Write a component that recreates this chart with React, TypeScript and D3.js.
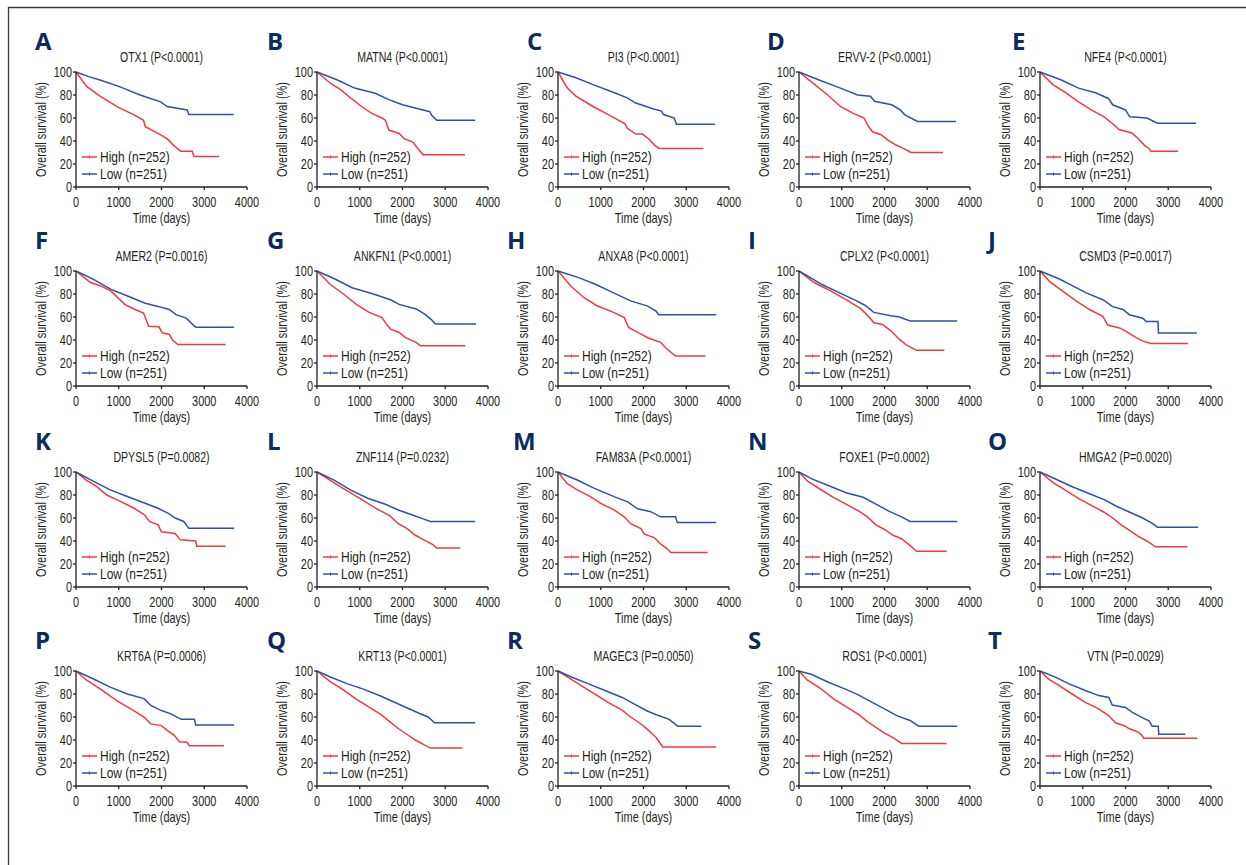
import * as d3 from 'd3';
import React from 'react';

type Pt = [number, number];

const letters = ['A', 'B', 'C', 'D', 'E', 'F', 'G', 'H', 'I', 'J', 'K', 'L', 'M', 'N', 'O', 'P', 'Q', 'R', 'S', 'T'];
const genes = ['OTX1', 'MATN4', 'PI3', 'ERVV-2', 'NFE4', 'AMER2', 'ANKFN1', 'ANXA8', 'CPLX2', 'CSMD3',
  'DPYSL5', 'ZNF114', 'FAM83A', 'FOXE1', 'HMGA2', 'KRT6A', 'KRT13', 'MAGEC3', 'ROS1', 'VTN'];
const pValues = ['P<0.0001', 'P<0.0001', 'P<0.0001', 'P<0.0001', 'P<0.0001', 'P=0.0016', 'P<0.0001', 'P<0.0001',
  'P<0.0001', 'P=0.0017', 'P=0.0082', 'P=0.0232', 'P<0.0001', 'P=0.0002', 'P=0.0020', 'P=0.0006', 'P<0.0001',
  'P=0.0050', 'P<0.0001', 'P=0.0029'];
const legendLabels = ['High (n=252)', 'Low (n=251)'];
const xTicks = [0, 1000, 2000, 3000, 4000];
const yTicks = [0, 20, 40, 60, 80, 100];

// [days, survival %]
const highCurves: Pt[][] = [
  [[0, 100], [250, 87.5], [560, 79], [1000, 69], [1350, 63], [1580, 58], [1620, 52.5], [1900, 47], [2130, 42], [2290, 36], [2450, 31], [2720, 31], [2760, 26.5], [3350, 26.5]],
  [[0, 100], [320, 90], [560, 84.5], [800, 77], [1040, 70], [1280, 64], [1520, 60], [1600, 58], [1680, 49.5], [1920, 46.5], [2040, 42], [2240, 39], [2360, 33.5], [2480, 28], [3460, 28]],
  [[0, 100], [220, 86], [420, 79], [820, 70], [1120, 64], [1420, 58], [1570, 55], [1620, 51], [1820, 46], [1970, 46], [2120, 42], [2270, 36], [2370, 33.5], [3400, 33.5]],
  [[0, 100], [370, 89], [670, 80], [970, 70], [1270, 64], [1520, 60], [1620, 53], [1720, 48], [1920, 45.5], [2070, 41], [2270, 36.5], [2420, 34], [2620, 30], [3370, 30]],
  [[0, 100], [300, 89], [600, 82], [900, 74], [1200, 67], [1500, 61], [1700, 55], [1850, 50], [2150, 47], [2300, 42], [2450, 36], [2550, 33.5], [2600, 31], [3230, 31]],
  [[0, 100], [340, 90], [580, 87], [820, 82.5], [1140, 71], [1380, 66.5], [1580, 63.5], [1700, 52], [1940, 51.5], [2020, 46], [2180, 45], [2260, 40], [2380, 36], [3500, 36]],
  [[0, 100], [320, 88], [620, 80], [920, 71], [1220, 64], [1520, 59.5], [1620, 54], [1720, 49.5], [1920, 46.5], [2070, 42], [2320, 38], [2420, 35], [3470, 35]],
  [[0, 100], [300, 87], [600, 77], [900, 70], [1300, 64], [1550, 59.5], [1650, 51], [1900, 46], [2100, 42], [2400, 38], [2550, 32], [2750, 26], [3450, 26]],
  [[0, 100], [350, 90], [750, 82.5], [1150, 74], [1450, 67], [1650, 59.5], [1750, 55], [1950, 53.5], [2150, 48], [2350, 40.5], [2500, 36], [2750, 31], [3400, 31]],
  [[0, 100], [220, 91], [530, 82.5], [845, 74], [1155, 66.5], [1470, 60.5], [1585, 53], [1860, 50.5], [2015, 47.5], [2250, 42], [2405, 39], [2600, 37], [3460, 37]],
  [[0, 100], [240, 93], [480, 87.5], [720, 80], [1040, 74.5], [1360, 68.5], [1600, 62.7], [1720, 57], [1920, 54], [2000, 48], [2320, 46.5], [2440, 41], [2800, 40], [2825, 35.5], [3500, 35.5]],
  [[0, 100], [300, 93], [600, 86], [1000, 77], [1400, 68], [1700, 62], [1900, 55], [2100, 51], [2300, 45], [2500, 41], [2700, 37], [2800, 34], [3350, 34]],
  [[0, 100], [210, 90], [450, 84.5], [760, 78.6], [1000, 72.7], [1310, 67], [1550, 61], [1700, 55], [1940, 50.7], [2020, 46], [2250, 43], [2400, 37.5], [2560, 33], [2640, 30], [3500, 30]],
  [[0, 100], [200, 92], [500, 85], [800, 78], [1100, 72], [1400, 66], [1600, 61], [1800, 54], [2000, 50], [2200, 45], [2400, 42], [2600, 36], [2750, 31], [3450, 31]],
  [[0, 100], [300, 91], [600, 84], [900, 77], [1200, 71], [1500, 65], [1700, 60], [1900, 54], [2100, 49], [2300, 44], [2500, 40], [2700, 35], [3450, 35]],
  [[0, 100], [250, 92], [565, 84.5], [960, 74], [1350, 65.6], [1590, 60], [1750, 54], [2000, 52.5], [2150, 48], [2300, 44], [2420, 38.5], [2600, 38], [2650, 35], [3460, 35]],
  [[0, 100], [300, 91], [600, 84], [900, 76], [1200, 69], [1500, 62], [1700, 56], [1900, 50], [2100, 45], [2300, 40], [2500, 36], [2650, 33], [3400, 33]],
  [[0, 100], [300, 93], [600, 86], [900, 79], [1200, 72], [1500, 66], [1700, 60], [1900, 55], [2100, 49], [2300, 42], [2450, 34], [3700, 34]],
  [[0, 100], [200, 92], [500, 85], [800, 76], [1100, 69], [1400, 62], [1600, 56], [1800, 51], [2000, 46], [2200, 42], [2400, 37], [3450, 37]],
  [[0, 100], [200, 93], [440, 87.5], [750, 80], [1060, 72.7], [1375, 67], [1610, 61], [1765, 55], [2000, 52], [2080, 50], [2310, 46.6], [2390, 43.7], [2430, 41.5], [3680, 41.5]],
];

const lowCurves: Pt[][] = [
  [[0, 100], [300, 96], [560, 93], [1000, 87.5], [1500, 80], [1980, 74], [2130, 70], [2600, 67], [2640, 63], [3690, 63]],
  [[0, 100], [480, 93], [880, 86], [1360, 81.5], [1680, 76], [2000, 71.5], [2320, 68.5], [2640, 65.5], [2680, 62.5], [2800, 58], [3700, 58]],
  [[0, 100], [420, 95], [820, 89], [1320, 82], [1620, 77.5], [1820, 73], [2220, 68], [2420, 66], [2470, 63], [2720, 60], [2770, 54.5], [3670, 54.5]],
  [[0, 100], [470, 93], [970, 86], [1370, 80], [1670, 79], [1770, 74.5], [2170, 71.5], [2370, 67], [2470, 63], [2770, 57], [3670, 57]],
  [[0, 100], [500, 93], [900, 86], [1300, 82], [1600, 77], [1700, 71.5], [2000, 67], [2100, 61], [2500, 60], [2750, 55.5], [3650, 55.5]],
  [[0, 100], [420, 92.5], [820, 84], [1220, 78], [1620, 72], [1940, 69], [2180, 66.5], [2340, 62], [2580, 59], [2660, 56], [2800, 51], [3700, 51]],
  [[0, 100], [420, 93], [820, 85.5], [1320, 80], [1720, 75], [1920, 71], [2320, 67], [2520, 62.5], [2670, 58], [2770, 54], [3720, 54]],
  [[0, 100], [500, 94], [900, 88], [1300, 81], [1700, 74], [2100, 69.5], [2300, 65], [2350, 62], [3700, 62]],
  [[0, 100], [550, 88], [950, 81], [1350, 74], [1550, 70], [1750, 64], [2150, 61], [2350, 60], [2600, 56.5], [3700, 56.5]],
  [[0, 100], [455, 93], [765, 87], [1080, 81], [1470, 75], [1700, 69], [1940, 66.5], [2090, 62], [2405, 59], [2485, 56], [2760, 56], [2770, 46], [3670, 46]],
  [[0, 100], [400, 92], [800, 84.5], [1200, 78.7], [1600, 73], [1920, 68.5], [2160, 64], [2320, 60], [2520, 57], [2640, 51], [3700, 51]],
  [[0, 100], [400, 93], [800, 84], [1200, 77], [1600, 72], [1900, 67], [2200, 63], [2500, 59], [2650, 57], [3700, 57]],
  [[0, 100], [450, 93], [840, 86], [1310, 78.6], [1630, 74], [1860, 68], [2170, 65.5], [2400, 61], [2750, 61], [2790, 56], [3700, 56]],
  [[0, 100], [300, 94], [700, 88], [1100, 82], [1500, 78], [1800, 72], [2100, 66], [2400, 61], [2600, 57], [3700, 57]],
  [[0, 100], [300, 95], [700, 88], [1100, 82], [1500, 76], [1800, 70], [2100, 65], [2400, 60], [2600, 56], [2750, 52], [3700, 52]],
  [[0, 100], [410, 93], [800, 86], [1200, 80], [1590, 76], [1750, 70], [2000, 65.6], [2220, 62.7], [2460, 58], [2770, 58], [2800, 53], [3700, 53]],
  [[0, 100], [300, 95], [700, 89], [1100, 84], [1500, 78], [1800, 73], [2100, 68], [2400, 63], [2600, 60], [2750, 55], [3700, 55]],
  [[0, 100], [300, 95], [700, 89], [1100, 83], [1500, 77], [1800, 71], [2100, 65], [2300, 62], [2600, 58], [2800, 52], [3350, 52]],
  [[0, 100], [300, 97], [700, 90], [1100, 84], [1400, 79], [1700, 73], [2000, 67], [2300, 61], [2600, 57], [2800, 52], [3700, 52]],
  [[0, 100], [360, 94.7], [670, 89], [1060, 83], [1375, 78.6], [1610, 77], [1690, 70.4], [2000, 68.3], [2160, 64], [2390, 59.5], [2550, 56.6], [2625, 52], [2765, 52], [2780, 45], [3400, 45]],
];

const W = 1246;
const H = 865;
const colX = [76, 317, 558, 799, 1040];
const rowY0 = [187, 386, 587, 786];
const letterX = [
  [35, 267, 527, 767, 1012],
  [35, 267, 507, 748, 988],
  [35, 267, 513, 748, 988],
  [35, 267, 507, 748, 988],
];
const plotW = 171;
const plotH = 115;
const RED = '#ee3b40';
const BLUE = '#2d52a6';
const INK = '#231f20';
const FONT = "'Liberation Sans', Arial, sans-serif";

const x = d3.scaleLinear().domain([0, 4000]).range([0, plotW]);
const y = d3.scaleLinear().domain([0, 100]).range([plotH, 0]);
const line = d3.line<Pt>().x(d => x(d[0])).y(d => y(d[1]));

// no condensed face installed, so squeeze a regular one horizontally
const NText = ({ x, y, size, anchor = 'start', rotate = 0, dy, sq = 0.73, children }:
  { x: number, y: number, size: number, anchor?: string, rotate?: number, dy?: string, sq?: number, children: any }) => (
  <text transform={`translate(${x},${y}) rotate(${rotate}) scale(${sq},1)`} textAnchor={anchor}
    fontSize={size} dy={dy} fill={INK}>{children}</text>
);

const Panel = ({ i }: { i: number }) => {
  const row = Math.floor(i / 5);
  const col = i % 5;
  const ox = colX[col];
  const oy = rowY0[row] - plotH;
  return (
    <g>
      <text x={letterX[row][col]} y={oy - 22} fontFamily="'Open Sans', 'Liberation Sans', sans-serif"
        fontWeight={700} fontSize={24} fill="#0b2b5c">{letters[i]}</text>
      <g transform={`translate(${ox},${oy})`}>
        <NText x={plotW / 2} y={-10} size={14.5} anchor="middle">{`${genes[i]} (${pValues[i]})`}</NText>
        <path d={line(highCurves[i]) || ''} fill="none" stroke={RED} strokeWidth={1.5} />
        <path d={line(lowCurves[i]) || ''} fill="none" stroke={BLUE} strokeWidth={1.5} />
        <line x1={0} x2={0} y1={0} y2={plotH} stroke={INK} strokeWidth={1.3} />
        <line x1={0} x2={plotW} y1={plotH} y2={plotH} stroke={INK} strokeWidth={1.3} />
        {yTicks.map(t => (
          <g key={'y' + t}>
            <line x1={-3} x2={0} y1={y(t)} y2={y(t)} stroke={INK} strokeWidth={1.3} />
            <NText x={-4} y={y(t)} dy="0.36em" size={15} anchor="end">{t}</NText>
          </g>
        ))}
        {xTicks.map(t => (
          <g key={'x' + t}>
            <line x1={x(t)} x2={x(t)} y1={plotH} y2={plotH + 3} stroke={INK} strokeWidth={1.3} />
            <NText x={x(t)} y={plotH + 20} size={15} anchor="middle">{t}</NText>
          </g>
        ))}
        <NText x={plotW / 2} y={plotH + 36} size={15} anchor="middle">Time (days)</NText>
        <NText x={-30} y={plotH / 2} size={15} anchor="middle" rotate={-90}>Overall survival (%)</NText>
        {legendLabels.map((lab, k) => {
          const ly = plotH - 30 + k * 17;
          const c = k === 0 ? RED : BLUE;
          return (
            <g key={lab}>
              <line x1={6} x2={21} y1={ly} y2={ly} stroke={c} strokeWidth={1.5} />
              <line x1={13.5} x2={13.5} y1={ly - 1.5} y2={ly + 1.5} stroke={c} strokeWidth={1} />
              <NText x={24} y={ly} dy="0.36em" size={15} sq={0.8}>{lab}</NText>
            </g>
          );
        })}
      </g>
    </g>
  );
};

export default function App() {
  return (
    <svg width={W} height={H} style={{ position: 'absolute', left: 0, top: 0, background: '#fff' }}
      fontFamily={FONT}>
      <rect width={W} height={H} fill="#fff" />
      <path d={`M8.5,${H} V7.5 H${W}`} fill="none" stroke="#3a3a3a" strokeWidth={1.3} />
      {letters.map((_, i) => <Panel key={i} i={i} />)}
    </svg>
  );
}
